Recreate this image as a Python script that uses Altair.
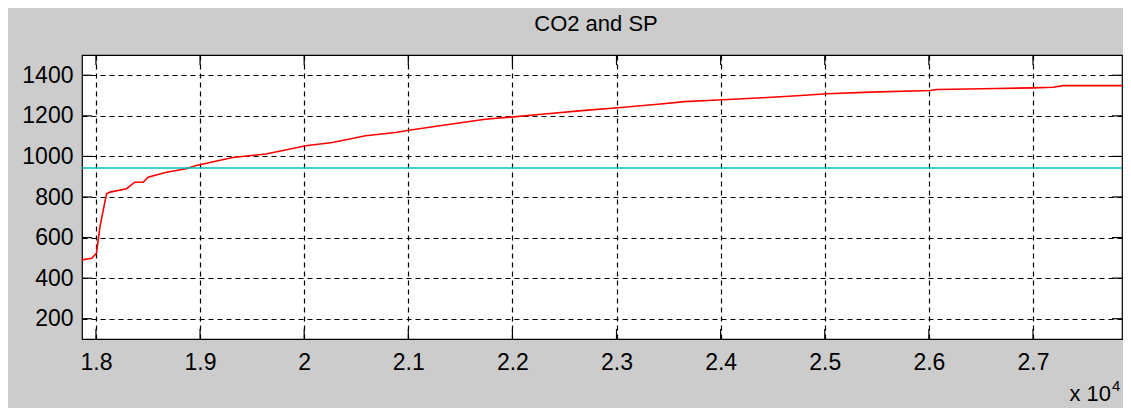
import altair as alt
import pandas as pd

# ---- data ----
time_s = [17863, 17960, 18005, 18038, 18070, 18102, 18134, 18294, 18373, 18453,
          18500, 18676, 18868, 18963, 19314, 19633, 20016, 20271, 20590, 20877,
          21005, 21452, 21739, 22010, 22281, 22696, 23014, 23397, 23652, 23876,
          24402, 24657, 25024, 25438, 26013, 26077, 26651, 27002, 27193, 27289,
          27860]
co2 = [490, 498, 523, 653, 735, 816, 824, 841, 873, 873,
       898, 922, 939, 955, 995, 1012, 1053, 1069, 1102, 1118,
       1129, 1162, 1183, 1195, 1208, 1227, 1240, 1257, 1270, 1276,
       1289, 1297, 1309, 1317, 1325, 1330, 1335, 1338, 1341, 1349,
       1349]
sp_level = [943]
x_ticks = [18000, 19000, 20000, 21000, 22000, 23000, 24000, 25000, 26000, 27000]
y_ticks = [200, 400, 600, 800, 1000, 1200, 1400]
title_text = "CO2 and SP"
exp_base = "x 10"
exp_power = "4"

# ---- layout ----
W, H = 1040, 284
X_DOMAIN = [17866, 27855]
Y_DOMAIN = [100, 1500]
FONT = "Liberation Sans"
TICK = 10

xs = alt.Scale(domain=X_DOMAIN, nice=False, zero=False)
ys = alt.Scale(domain=Y_DOMAIN, nice=False, zero=False)

df = pd.DataFrame({"t": time_s, "co2": co2})
df_sp = pd.DataFrame({"co2": sp_level})
df_xt = pd.DataFrame({"t": x_ticks})
df_yt = pd.DataFrame({"co2": y_ticks})

grid_common = dict(grid=True, gridDash=[5, 4], gridColor="#000000", gridWidth=1.2,
                   gridOpacity=1, ticks=False, tickSize=0, domain=False,
                   labelFont=FONT, labelFontSize=23, labelColor="#000000",
                   labelOverlap=False, labelFlush=False, title=None)

x_axis = alt.Axis(values=x_ticks, labelExpr="format(datum.value/10000, '~g')",
                  labelPadding=12, **grid_common)
y_axis = alt.Axis(values=y_ticks, format="d", labelPadding=9, **grid_common)

X = alt.X("t:Q", scale=xs, axis=x_axis)
Y = alt.Y("co2:Q", scale=ys, axis=y_axis)

co2_line = alt.Chart(df).mark_line(color="#ff0000", strokeWidth=1.6).encode(x=X, y=Y)

sp_line = alt.Chart(df_sp).mark_rule(color="#00bfbf", strokeWidth=1.6).encode(y=Y)

tick_style = dict(color="#000000", strokeWidth=1.2)
xt_bottom = alt.Chart(df_xt).mark_rule(**tick_style).encode(
    x=X, y=alt.value(H), y2=alt.value(H - TICK))
xt_top = alt.Chart(df_xt).mark_rule(**tick_style).encode(
    x=X, y=alt.value(0), y2=alt.value(TICK))
yt_left = alt.Chart(df_yt).mark_rule(**tick_style).encode(
    y=Y, x=alt.value(0), x2=alt.value(TICK))
yt_right = alt.Chart(df_yt).mark_rule(**tick_style).encode(
    y=Y, x=alt.value(W), x2=alt.value(W - TICK))

exp_text = alt.Chart(pd.DataFrame({"s": [exp_base]})).mark_text(
    font=FONT, fontSize=22, color="#000000", align="right", baseline="alphabetic"
).encode(text="s:N", x=alt.value(W - 11), y=alt.value(H + 62))
pow_text = alt.Chart(pd.DataFrame({"s": [exp_power]})).mark_text(
    font=FONT, fontSize=15, color="#000000", align="left", baseline="alphabetic"
).encode(text="s:N", x=alt.value(W - 10), y=alt.value(H + 52))

chart = alt.layer(
    co2_line, sp_line, xt_bottom, xt_top, yt_left, yt_right, exp_text, pow_text
).properties(
    width=W, height=H,
    title=alt.TitleParams(title_text, font=FONT, fontSize=22, fontWeight="normal",
                          color="#000000", anchor="middle", offset=18, dx=-6),
    autosize=alt.AutoSizeParams(type="none"),
    padding={"left": 74, "top": 47, "right": 1, "bottom": 69},
).configure(
    background="#cccccc",
).configure_view(
    stroke="#000000", strokeWidth=1.2, fill="#ffffff",
)

chart.save("out.html", embed_options={"renderer": "svg", "actions": False})
